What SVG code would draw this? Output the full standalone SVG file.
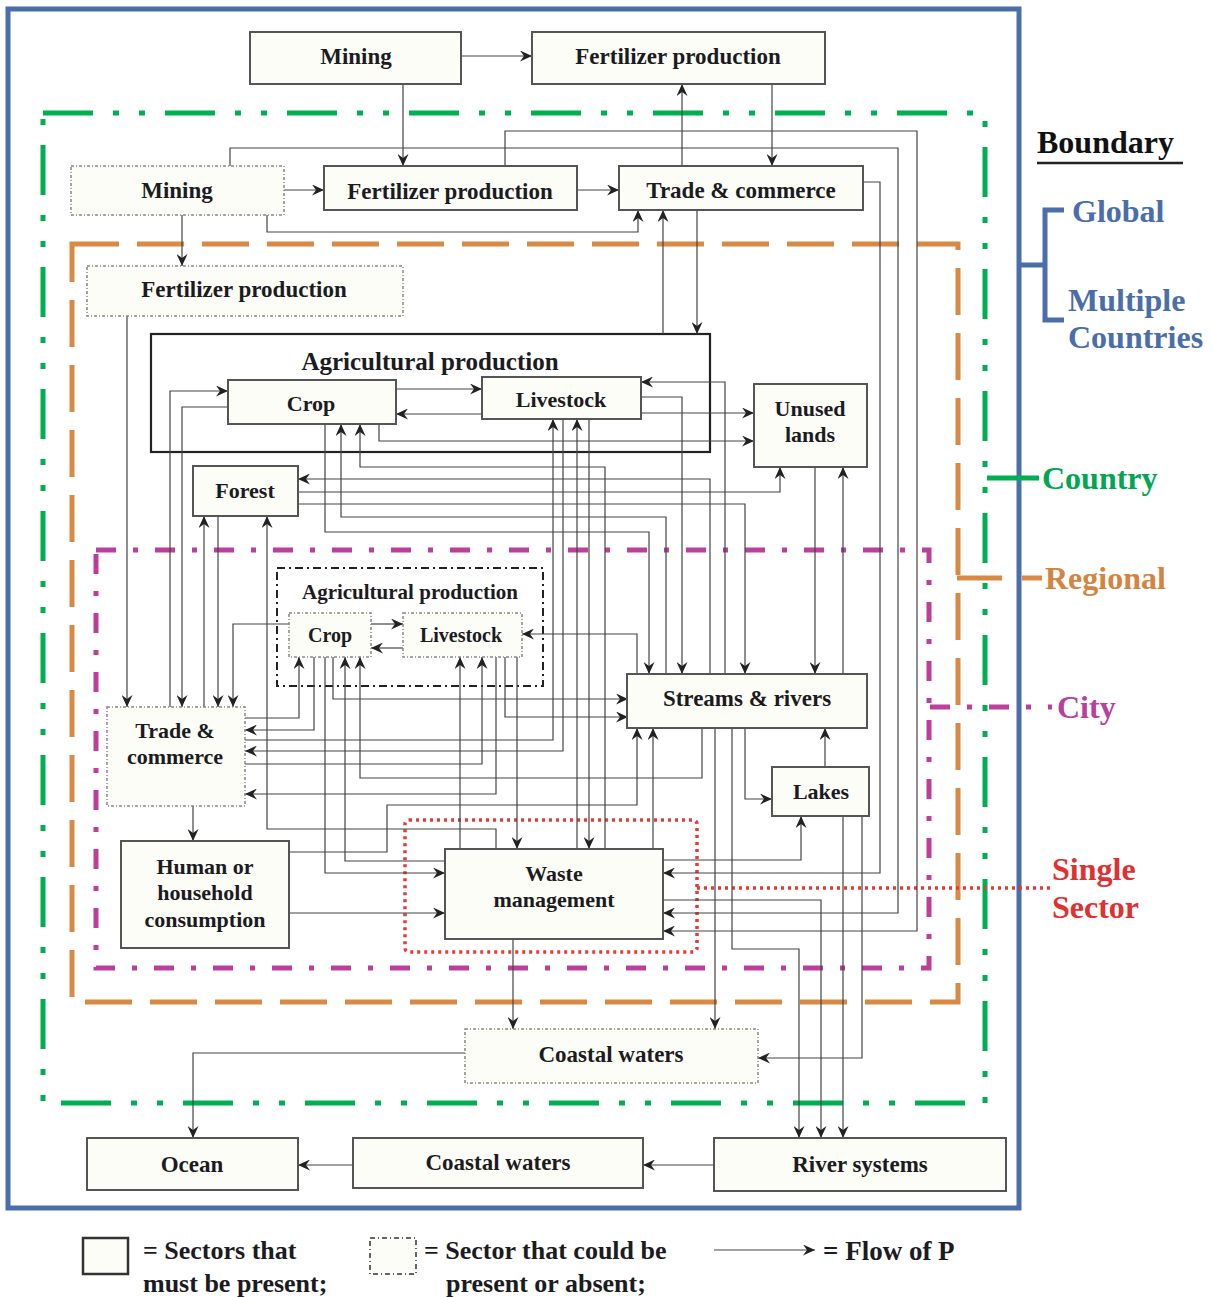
<svg xmlns="http://www.w3.org/2000/svg" width="1214" height="1297" viewBox="0 0 1214 1297">
<defs>
<marker id="arr" markerUnits="userSpaceOnUse" markerWidth="13" markerHeight="11" refX="12" refY="5.5" orient="auto">
<path d="M0,0 L12,5.5 L0,11 L4,5.5 z" fill="#222"/>
</marker>
<style>
.t{font-family:"Liberation Serif","Times New Roman",serif;font-weight:bold;fill:#1b1b22;text-anchor:middle}
.n{fill:#fdfdf7;stroke:#555;stroke-width:2}
.d{fill:#fdfdf7;stroke:#888;stroke-width:1.5;stroke-dasharray:3 2 1 2}
.c{fill:none;stroke:#444;stroke-width:1.2;marker-end:url(#arr)}
.b{fill:none}
.lab{font-family:"Liberation Serif","Times New Roman",serif;font-weight:bold;font-size:32px}
</style>
</defs>
<rect width="1214" height="1297" fill="#ffffff"/>

<!-- scale boundaries -->
<g id="boundaries">
<rect class="b" x="8" y="9" width="1011" height="1199" stroke="#4a6ea9" stroke-width="5"/>
<rect class="b" x="43" y="113" width="942" height="990" stroke="#00b050" stroke-width="5" stroke-dasharray="50 20 6 20 6 20"/>
<rect class="b" x="72" y="244" width="886" height="758" stroke="#d88a45" stroke-width="5" stroke-dasharray="47 18"/>
<rect class="b" x="96" y="550" width="833" height="418" stroke="#bb3f9b" stroke-width="5" stroke-dasharray="20 17 5 17"/>
<rect class="b" x="405" y="820" width="292" height="132" rx="4" stroke="#e83a36" stroke-width="3.5" stroke-dasharray="3 4"/>
</g>

<!-- boundary key on the right -->
<g id="boundary-key">
<text x="1037" y="153" class="lab" fill="#111">Boundary</text>
<line x1="1037" y1="163" x2="1183" y2="163" stroke="#222" stroke-width="2.5"/>
<path d="M1019,265 H1045 M1064,210 H1045 V320 H1064" fill="none" stroke="#4a6ea9" stroke-width="5"/>
<text x="1072" y="222" class="lab" fill="#4a6ea9">Global</text>
<text x="1068" y="311" class="lab" fill="#4a6ea9">Multiple</text>
<text x="1068" y="348" class="lab" fill="#4a6ea9">Countries</text>
<line x1="987" y1="478" x2="1039" y2="478" stroke="#00b050" stroke-width="5"/>
<text x="1042" y="489" class="lab" fill="#00a650">Country</text>
<path d="M957,578 H1002 M1022,578 H1042" stroke="#d88a45" stroke-width="5"/>
<text x="1045" y="589" class="lab" fill="#d4843f">Regional</text>
<line x1="930" y1="707" x2="1052" y2="707" stroke="#bb3f9b" stroke-width="5" stroke-dasharray="20 17 5 17"/>
<text x="1057" y="718" class="lab" fill="#b8409a">City</text>
<line x1="697" y1="888" x2="1050" y2="888" stroke="#e83a36" stroke-width="3.5" stroke-dasharray="3 4"/>
<text x="1052" y="880" class="lab" fill="#e03030">Single</text>
<text x="1052" y="918" class="lab" fill="#e03030">Sector</text>
</g>

<!-- containers -->
<g id="agri-country">
<rect x="151" y="334" width="559" height="118" fill="#ffffff" stroke="#222" stroke-width="2.2"/>
<text x="430" y="370" class="t" font-size="25">Agricultural production</text>
</g>
<g id="agri-city">
<rect x="277" y="568" width="266" height="118" fill="#ffffff" stroke="#222" stroke-width="2" stroke-dasharray="8 4 2 4"/>
<text x="410" y="599" class="t" font-size="21">Agricultural production</text>
</g>

<!-- flows of P -->
<g id="connectors">
<path class="c" d="M461,56 H532"/>
<path class="c" d="M403,84 V166"/>
<path class="c" d="M682,166 V84"/>
<path class="c" d="M772,84 V166"/>
<path class="c" d="M284,190 H324"/>
<path class="c" d="M577,190 H619"/>
<path class="c" d="M182,215 V266"/>
<path class="c" d="M267,215 V232 H638 V210"/>
<path class="c" d="M663,334 V210"/>
<path class="c" d="M697,210 V334"/>
<path class="c" d="M230,166 V148 H898 V913 H663"/>
<path class="c" d="M505,166 V131 H917 V931 H663"/>
<path class="c" d="M863,182 H880 V873 H663"/>
<path class="c" d="M127,316 V707"/>
<path class="c" d="M170,707 V391 H228"/>
<path class="c" d="M228,407 H182 V707"/>
<path class="c" d="M204,707 V516"/>
<path class="c" d="M218,516 V707"/>
<path class="c" d="M289,624 H233 V707"/>
<path class="c" d="M396,389 H482"/>
<path class="c" d="M482,414 H396"/>
<path class="c" d="M379,424 V441 H754"/>
<path class="c" d="M641,413 H754"/>
<path class="c" d="M641,397 H682 V674"/>
<path class="c" d="M725,674 V382 H641"/>
<path class="c" d="M710,674 V479 H298"/>
<path class="c" d="M298,492 H780 V467"/>
<path class="c" d="M298,504 H745 V674"/>
<path class="c" d="M666,674 V517 H341 V424"/>
<path class="c" d="M325,424 V532 H649 V674"/>
<path class="c" d="M605,849 V467 H360 V424"/>
<path class="c" d="M815,467 V674"/>
<path class="c" d="M843,674 V467"/>
<path class="c" d="M563,419 V751 H245"/>
<path class="c" d="M245,740 H553 V419"/>
<path class="c" d="M577,849 V419"/>
<path class="c" d="M589,419 V849"/>
<path class="c" d="M371,624 H403"/>
<path class="c" d="M403,648 H371"/>
<path class="c" d="M245,718 H299 V657"/>
<path class="c" d="M314,657 V730 H245"/>
<path class="c" d="M325,657 V873 H445"/>
<path class="c" d="M333,657 V699 H628"/>
<path class="c" d="M445,861 H345 V657"/>
<path class="c" d="M702,728 V778 H360 V657"/>
<path class="c" d="M460,849 V657"/>
<path class="c" d="M245,764 H482 V657"/>
<path class="c" d="M496,657 V794 H245"/>
<path class="c" d="M505,657 V717 H628"/>
<path class="c" d="M517,657 V849"/>
<path class="c" d="M637,674 V634 H522"/>
<path class="c" d="M496,849 V829 H267 V516"/>
<path class="c" d="M193,806 V841"/>
<path class="c" d="M289,852 H387 V805 H637 V728"/>
<path class="c" d="M289,913 H445"/>
<path class="c" d="M653,849 V728"/>
<path class="c" d="M745,728 V799 H772"/>
<path class="c" d="M825,767 V728"/>
<path class="c" d="M663,860 H801 V816"/>
<path class="c" d="M663,900 H821 V1138"/>
<path class="c" d="M732,728 V949 H799 V1138"/>
<path class="c" d="M843,816 V1138"/>
<path class="c" d="M862,816 V1058 H758"/>
<path class="c" d="M715,728 V1029"/>
<path class="c" d="M513,939 V1029"/>
<path class="c" d="M465,1053 H193 V1138"/>
<path class="c" d="M714,1165 H643"/>
<path class="c" d="M353,1165 H298"/>
</g>

<!-- sectors -->
<g id="mining-global"><rect class="n" x="250" y="32" width="211" height="52"/><text x="356" y="64" class="t" font-size="23">Mining</text></g>
<g id="fert-global"><rect class="n" x="532" y="32" width="293" height="52"/><text x="678" y="64" class="t" font-size="23">Fertilizer production</text></g>
<g id="mining-country"><rect class="d" x="71" y="166" width="213" height="49"/><text x="177" y="198" class="t" font-size="23">Mining</text></g>
<g id="fert-country"><rect class="n" x="324" y="166" width="253" height="44"/><text x="450" y="199" class="t" font-size="23">Fertilizer production</text></g>
<g id="trade-country"><rect class="n" x="619" y="166" width="244" height="44"/><text x="741" y="198" class="t" font-size="23">Trade &amp; commerce</text></g>
<g id="fert-regional"><rect class="d" x="87" y="266" width="316" height="50"/><text x="244" y="297" class="t" font-size="23">Fertilizer production</text></g>
<g id="crop-country"><rect class="n" x="228" y="380" width="168" height="44" fill="#ffffff"/><text x="311" y="411" class="t" font-size="22">Crop</text></g>
<g id="livestock-country"><rect class="n" x="482" y="377" width="159" height="42"/><text x="561" y="407" class="t" font-size="22">Livestock</text></g>
<g id="unused-lands"><rect class="n" x="754" y="384" width="113" height="83"/><text x="810" y="416" class="t" font-size="22">Unused</text><text x="810" y="442" class="t" font-size="22">lands</text></g>
<g id="forest"><rect class="n" x="193" y="466" width="105" height="50"/><text x="245" y="498" class="t" font-size="22">Forest</text></g>
<g id="crop-city"><rect class="d" x="289" y="613" width="82" height="44"/><text x="330" y="642" class="t" font-size="20">Crop</text></g>
<g id="livestock-city"><rect class="d" x="403" y="613" width="119" height="44"/><text x="461" y="642" class="t" font-size="20">Livestock</text></g>
<g id="trade-city"><rect class="d" x="107" y="707" width="138" height="99"/><text x="175" y="738" class="t" font-size="22">Trade &amp;</text><text x="175" y="764" class="t" font-size="22">commerce</text></g>
<g id="streams-rivers"><rect class="n" x="627" y="674" width="240" height="54"/><text x="747" y="706" class="t" font-size="23">Streams &amp; rivers</text></g>
<g id="lakes"><rect class="n" x="772" y="767" width="97" height="49"/><text x="821" y="799" class="t" font-size="22">Lakes</text></g>
<g id="household"><rect class="n" x="121" y="841" width="168" height="107"/><text x="205" y="874" class="t" font-size="22">Human or</text><text x="205" y="900" class="t" font-size="22">household</text><text x="205" y="927" class="t" font-size="22">consumption</text></g>
<g id="waste"><rect class="n" x="445" y="849" width="218" height="90"/><text x="554" y="881" class="t" font-size="22">Waste</text><text x="554" y="907" class="t" font-size="22">management</text></g>
<g id="coastal-country"><rect class="d" x="465" y="1029" width="293" height="54"/><text x="611" y="1062" class="t" font-size="23">Coastal waters</text></g>
<g id="ocean"><rect class="n" x="87" y="1138" width="211" height="52"/><text x="192" y="1172" class="t" font-size="23">Ocean</text></g>
<g id="coastal-global"><rect class="n" x="353" y="1138" width="290" height="50"/><text x="498" y="1170" class="t" font-size="23">Coastal waters</text></g>
<g id="river-systems"><rect class="n" x="714" y="1138" width="292" height="53"/><text x="860" y="1172" class="t" font-size="23">River systems</text></g>

<!-- legend -->
<g id="legend">
<rect x="83" y="1238" width="45" height="36" fill="#fdfdf7" stroke="#333" stroke-width="2.5"/>
<text x="143" y="1259" class="t" font-size="26" style="text-anchor:start">= Sectors that</text>
<text x="143" y="1292" class="t" font-size="26" style="text-anchor:start">must be present;</text>
<rect x="370" y="1238" width="46" height="36" fill="#fdfdf7" stroke="#333" stroke-width="1.5" stroke-dasharray="5 3 1 3"/>
<text x="424" y="1259" class="t" font-size="26" style="text-anchor:start">= Sector that could be</text>
<text x="446" y="1292" class="t" font-size="26" style="text-anchor:start">present or absent;</text>
<path class="c" d="M714,1250 H815" stroke="#888"/>
<text x="823" y="1260" class="t" font-size="27" style="text-anchor:start">= Flow of P</text>
</g>
</svg>
